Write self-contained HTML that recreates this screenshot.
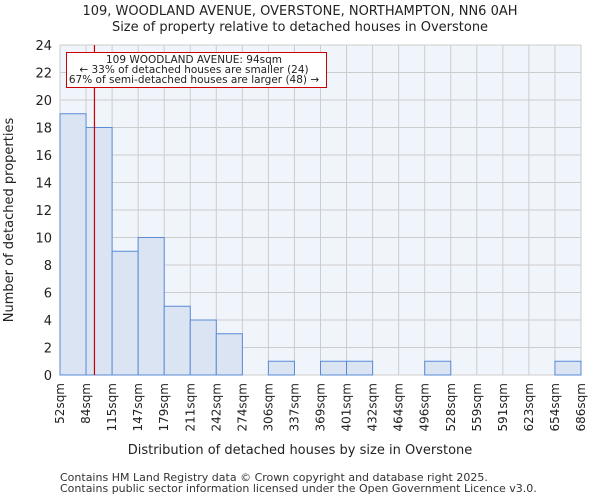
<!DOCTYPE html>
<html><head><meta charset="utf-8"><style>body{margin:0;background:#fff}svg{display:block;font-family:"DejaVu Sans","Liberation Sans",sans-serif}</style></head>
<body>
<svg id="c" width="600" height="500"></svg>
<script>
const binEdges=[52,84,115,147,179,211,242,274,306,337,369,401,432,464,496,528,559,591,623,654,686];
const counts=[19,18,9,10,5,4,3,0,1,0,1,1,0,0,1,0,0,0,0,1];
const yTicks=[0,2,4,6,8,10,12,14,16,18,20,22,24];
const markerValue=94;
const L=60,R=581,T=45,B=375,YMAX=24;
const svg=document.getElementById('c');const NS='http://www.w3.org/2000/svg';
const bw=(R-L)/counts.length;
function xi(i){return L+i*bw;}
function xv(v){for(let i=0;i<binEdges.length-1;i++){if(v<=binEdges[i+1])return xi(i)+bw*(v-binEdges[i])/(binEdges[i+1]-binEdges[i]);}return R;}
function y(v){return B-(B-T)*v/YMAX;}
function el(t,a,txt){const e=document.createElementNS(NS,t);for(const k in a)e.setAttribute(k,a[k]);if(txt!==undefined)e.textContent=txt;svg.appendChild(e);return e;}
let e;
e=el('rect',{x:L,y:T,width:R-L,height:B-T,fill:'#f0f4fb'});


yTicks.forEach(t=>{
 e=el('line',{x1:L,x2:R,y1:y(t),y2:y(t),stroke:'#cccccc','stroke-width':1});
 
 
 e=el('text',{x:L-8,y:y(t)+5,'text-anchor':'end','font-size':13,fill:'#222'},t);
 
 
});
binEdges.forEach((b,i)=>{
 e=el('line',{x1:xi(i),x2:xi(i),y1:T,y2:B,stroke:'#cccccc','stroke-width':1});
 
 
 const tx=xi(i)+4;
 e=el('text',{x:tx,y:B+8,'text-anchor':'end','font-size':12,fill:'#222',transform:`rotate(-90 ${tx} ${B+8})`},b+'sqm');
 
 
});
counts.forEach((c,i)=>{
 if(c<=0)return;
 e=el('rect',{x:xi(i),y:y(c),width:bw,height:B-y(c),fill:'#dae4f3',stroke:'#5b8ad6','stroke-width':1});
 
 
});
e=el('line',{x1:xv(markerValue),x2:xv(markerValue),y1:T,y2:B,stroke:'#cc0000','stroke-width':1.2});


e=el('rect',{x:66.5,y:52.5,width:260,height:35,fill:'#fff',stroke:'#cc0000','stroke-width':1});


[['109 WOODLAND AVENUE: 94sqm',63],['← 33% of detached houses are smaller (24)',73],['67% of semi-detached houses are larger (48) →',83]].forEach(a=>{
 e=el('text',{x:194,y:a[1],'text-anchor':'middle','font-size':10.5,fill:'#222'},a[0]);
 
 
});
e=el('text',{x:300,y:15,'text-anchor':'middle','font-size':13,fill:'#222'},'109, WOODLAND AVENUE, OVERSTONE, NORTHAMPTON, NN6 0AH');


e=el('text',{x:300,y:31,'text-anchor':'middle','font-size':13,fill:'#222'},'Size of property relative to detached houses in Overstone');


e=el('text',{x:300,y:454,'text-anchor':'middle','font-size':13,fill:'#222'},'Distribution of detached houses by size in Overstone');


e=el('text',{x:13,y:220,'text-anchor':'middle','font-size':13,fill:'#222',transform:'rotate(-90 13 220)'},'Number of detached properties');


e=el('text',{x:60,y:481,'font-size':11,fill:'#333'},'Contains HM Land Registry data © Crown copyright and database right 2025.');


e=el('text',{x:60,y:492,'font-size':11,fill:'#333'},'Contains public sector information licensed under the Open Government Licence v3.0.');


</script>
</body></html>
